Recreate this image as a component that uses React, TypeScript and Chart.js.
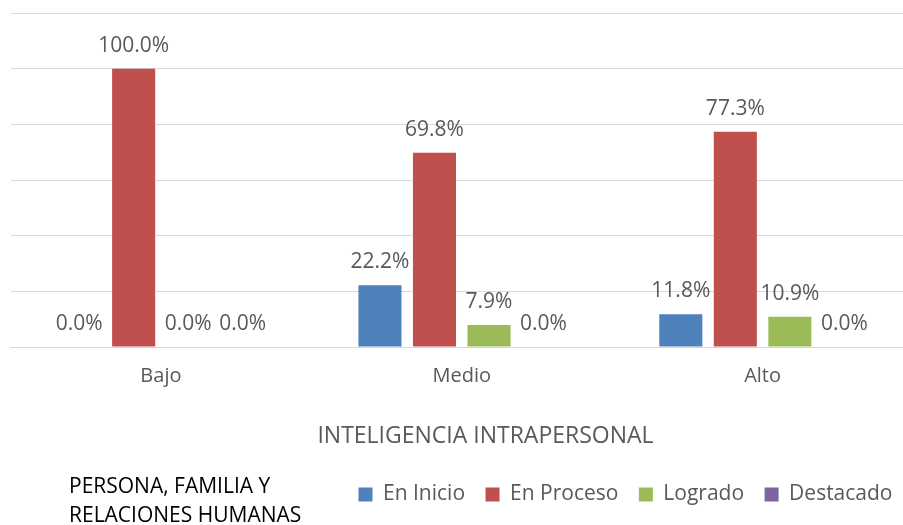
import React, { useEffect, useRef } from "react";
import { Chart, registerables } from "chart.js";

Chart.register(...registerables);

const categories = ["Bajo", "Medio", "Alto"];
const seriesNames = ["En Inicio", "En Proceso", "Logrado", "Destacado"];
const enInicio = [0, 22.2, 11.8];
const enProceso = [100, 69.8, 77.3];
const logrado = [0, 7.9, 10.9];
const destacado = [0, 0, 0];
const seriesColors = ["#4F81BD", "#C0504D", "#9BBB59", "#8064A2"];
const yMax = 120;
const yStep = 20;
const axisTitle = "INTELIGENCIA INTRAPERSONAL";
const legendTitleLines = ["PERSONA, FAMILIA Y", "RELACIONES HUMANAS"];

const FONT = "'Open Sans', sans-serif";
const TEXT = "#595959";

const W = 928;
const H = 525;
const PAD_B = 10;
const PAD_R = 15;
const LEG_FONT = 21;
const LEG_PAD = 20.5;
const PLOT_BOTTOM = 347;

const dataLabelPlugin = {
  id: "dataLabels",
  afterDatasetsDraw(chart: any) {
    const ctx = chart.ctx;
    ctx.save();
    ctx.font = `21px ${FONT}`;
    ctx.fillStyle = TEXT;
    ctx.textAlign = "center";
    ctx.textBaseline = "alphabetic";
    chart.data.datasets.forEach((ds: any, i: number) => {
      const meta = chart.getDatasetMeta(i);
      meta.data.forEach((bar: any, j: number) => {
        const v = ds.data[j];
        ctx.fillText(v.toFixed(1) + "%", bar.x, bar.y - 17);
      });
    });
    ctx.restore();
  },
};

const extraTextPlugin = {
  id: "extraText",
  afterDraw(chart: any) {
    const ctx = chart.ctx;
    ctx.save();
    ctx.font = `23px ${FONT}`;
    ctx.fillStyle = TEXT;
    ctx.textAlign = "center";
    ctx.textBaseline = "alphabetic";
    ctx.fillText(axisTitle, 485.5, 443);
    ctx.font = `21px ${FONT}`;
    ctx.fillStyle = "#000000";
    ctx.textAlign = "left";
    ctx.fillText(legendTitleLines[0], 69, 493);
    ctx.fillText(legendTitleLines[1], 69, 522);
    ctx.restore();
  },
};

export default function App() {
  const ref = useRef<HTMLCanvasElement | null>(null);
  useEffect(() => {
    if (!ref.current) return;
    const seriesData = [enInicio, enProceso, logrado, destacado];
    const legendHeight = LEG_FONT + LEG_PAD + 10;
    const legendTop = H - PAD_B - legendHeight;
    const chart = new Chart(ref.current, {
      type: "bar",
      data: {
        labels: categories,
        datasets: seriesNames.map((name, i) => ({
          label: name,
          data: seriesData[i],
          backgroundColor: seriesColors[i],
          borderWidth: 0,
          categoryPercentage: 0.725,
          barPercentage: 0.79,
        })),
      },
      options: {
        responsive: false,
        animation: false,
        layout: { padding: { left: 10.5, right: PAD_R, top: 13, bottom: PAD_B } },
        scales: {
          x: {
            grid: { display: false, drawTicks: false },
            border: { display: true, color: "#d9d9d9", width: 1 },
            ticks: {
              color: TEXT,
              font: { family: FONT, size: 20 },
              padding: 17,
            },
            afterFit: (scale: any) => {
              scale.height = legendTop - PLOT_BOTTOM;
            },
          },
          y: {
            min: 0,
            max: yMax,
            ticks: { display: false, stepSize: yStep },
            grid: { color: "#d9d9d9", lineWidth: 1, drawTicks: false },
            border: { display: false },
          },
        },
        plugins: {
          legend: {
            position: "bottom",
            align: "end",
            labels: {
              boxWidth: 14,
              boxHeight: 14,
              padding: LEG_PAD,
              color: TEXT,
              font: { family: FONT, size: LEG_FONT },
            },
          },
          tooltip: { enabled: false },
        },
      },
      plugins: [dataLabelPlugin, extraTextPlugin],
    } as any);
    return () => chart.destroy();
  }, []);
  return (
    <div
      style={{
        position: "absolute",
        left: 0,
        top: 0,
        width: 903,
        height: 525,
        overflow: "hidden",
        background: "#fff",
      }}
    >
      <canvas ref={ref} width={W} height={H} style={{ width: W, height: H, display: "block" }} />
    </div>
  );
}
